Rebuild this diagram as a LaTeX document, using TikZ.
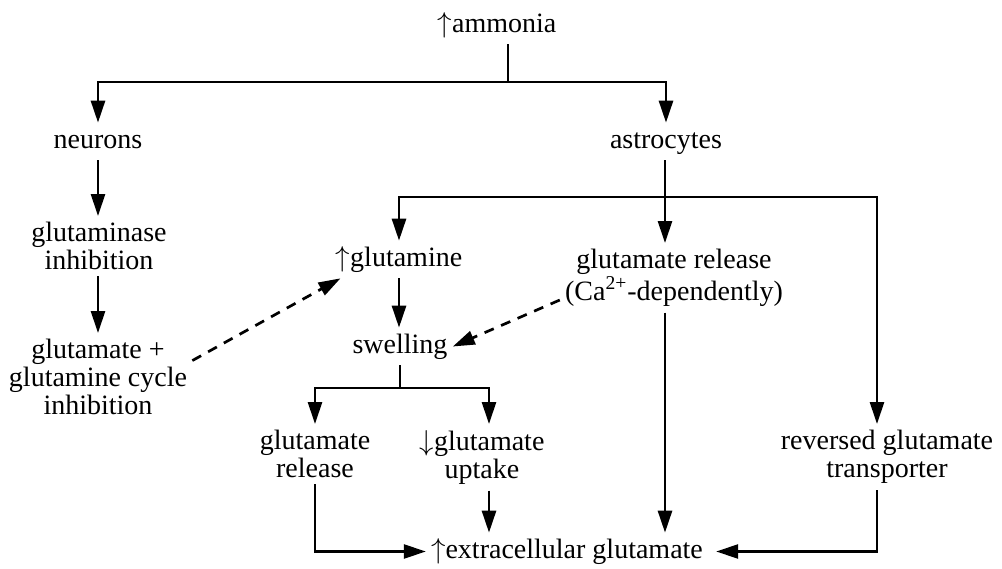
\documentclass[tikz,border=0pt]{standalone}
\usepackage{fontspec}
\setmainfont{Liberation Serif}
\usetikzlibrary{arrows.meta}

\begin{document}
\begin{tikzpicture}[x=0.5pt,y=-0.5pt,line width=1.35pt,
        every node/.style={font=\fontsize{14}{14}\selectfont,inner xsep=2pt,inner ysep=2.5pt},
        one/.style={anchor=base,text height=9.5pt,text depth=3pt},
        many/.style={anchor=north,align=center},
        arr/.style={-{Triangle[length=11pt,width=7pt]}},
        dasharr/.style={arr,dash pattern=on 5pt off 4pt}]
        \useasboundingbox (0,0) rectangle (1002,568);
        % Nodes
        \node[one] (amm) at (497,32) {$\uparrow$ammonia};
        \node[one] (neu) at (98,148) {neurons};
        \node[one] (ast) at (666,148) {astrocytes};
        \node[many] (gase) at (99,216) {glutaminase\\inhibition};
        \node[many] (cyc) at (98,333) {glutamate +\\glutamine cycle\\inhibition};
        \node[one] (gln) at (399,266) {$\uparrow$glutamine};
        \node[many] (rel) at (674,243) {glutamate release\\(Ca\textsuperscript{2+}-dependently)};
        \node[one] (swe) at (400,353) {swelling};
        \node[many] (grel) at (315,424) {glutamate\\release};
        \node[many] (upt) at (482,424) {$\downarrow$glutamate\\uptake};
        \node[many] (rev) at (887,424) {reversed glutamate\\transporter};
        \node[one] (ext) at (567,558) {$\uparrow$extracellular glutamate};
        % Splits
        \coordinate (s1) at (508,82);
        \coordinate (s2) at (665,197);
        \coordinate (s3) at (400,388);
        \draw (amm.south -| s1) -- (s1);
        \draw[arr] (s1) -| (neu.north);
        \draw[arr] (s1) -| (ast.north);
        \draw[arr] (neu.south) -- (neu.south |- gase.north);
        \draw[arr] (neu.south |- gase.south) -- (neu.south |- cyc.north);
        \draw[arr] (s2 |- ast.south) -- (s2 |- rel.north);
        \draw[arr] (s2) -| (gln.north);
        \draw[arr] (s2) -| ([xshift=-5pt]rev.north);
        \draw[arr] (gln.south) -- (gln.south |- swe.north);
        \draw[arr] (s2 |- rel.south) -- (s2 |- ext.north);
        \draw (swe.south) -- (s3);
        \draw[arr] (s3) -| (grel.north);
        \draw[arr] (s3) -| ([xshift=3.5pt]upt.north);
        \draw[arr] (grel.south) |- (ext.west);
        \draw[arr] ([xshift=3.5pt]upt.south) -- ([xshift=3.5pt]upt.south |- ext.north);
        \draw[arr,shorten >=4pt] ([xshift=-5pt]rev.south) |- (ext.east);
        % Dashed
        \draw[dasharr] (cyc.10) -- ([xshift=5pt]gln.south west);
        \draw[dasharr] (rel.191) -- (swe.east);
\end{tikzpicture}
\end{document}
